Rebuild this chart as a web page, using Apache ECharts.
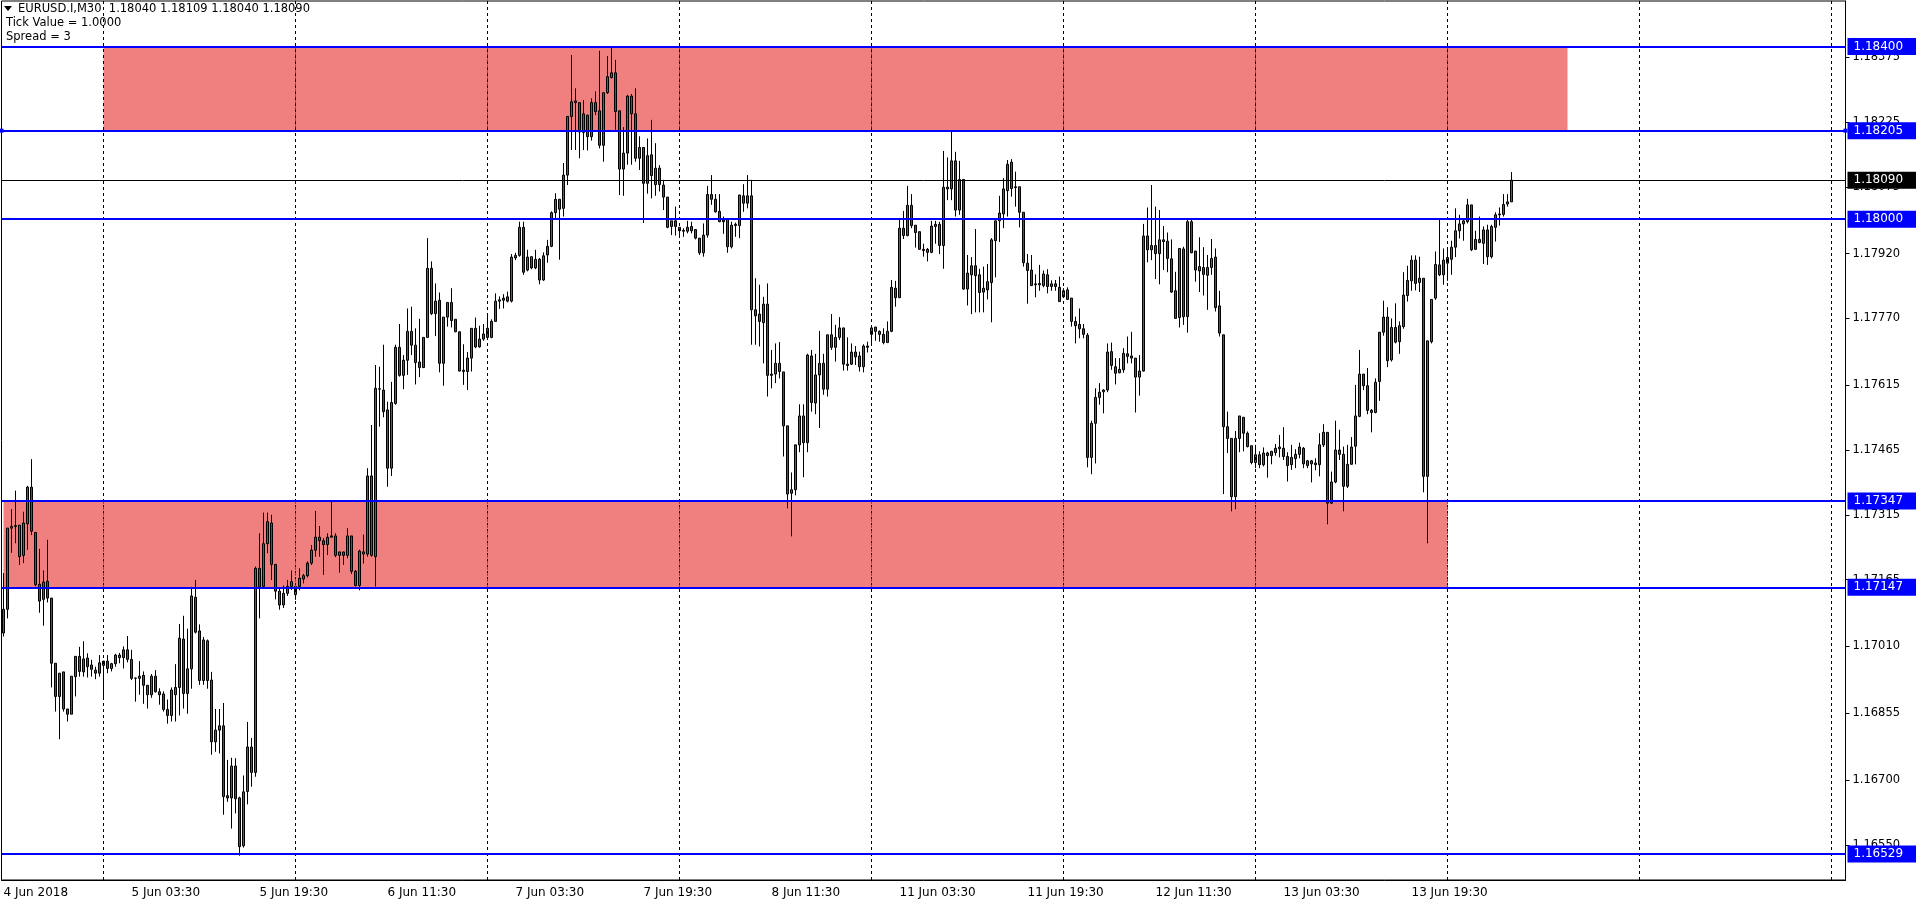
<!DOCTYPE html>
<html><head><meta charset="utf-8">
<script src="https://cdn.jsdelivr.net/npm/echarts@6/dist/echarts.min.js"></script>
<style>html,body{margin:0;padding:0;background:#fff;}#c{width:1916px;height:907px;}</style>
</head><body><div id="c"></div>
<script>
const symbolName = 'EURUSD.I,M30';
const tickValueText = 'Tick Value = 1.0000';
const spreadText = 'Spread = 3';

const opens = [
1.17041,1.17096,1.17284,1.17288,1.17218,1.17221,1.17294,1.17379,1.17274,1.17154,
1.17119,1.17161,1.17122,1.16971,1.16894,1.16951,1.16865,1.16853,1.16940,1.16987,
1.16951,1.16983,1.16967,1.16955,1.16948,1.16966,1.16976,1.16959,1.16970,1.16990,
1.16984,1.17002,1.16980,1.16936,1.16936,1.16943,1.16920,1.16898,1.16941,1.16905,
1.16900,1.16864,1.16850,1.16898,1.16915,1.17027,1.16901,1.16958,1.17124,1.17046,
1.16931,1.17023,1.16932,1.16789,1.16816,1.16826,1.16664,1.16659,1.16733,1.16659,
1.16548,1.16674,1.16777,1.16718,1.17191,1.17149,1.17248,1.17296,1.17200,1.17138,
1.17106,1.17133,1.17149,1.17130,1.17149,1.17166,1.17174,1.17203,1.17233,1.17263,
1.17255,1.17246,1.17266,1.17266,1.17221,1.17229,1.17221,1.17266,1.17184,1.17151,
1.17224,1.17224,1.17405,1.17218,1.17606,1.17604,1.17558,1.17423,1.17573,1.17703,
1.17638,1.17673,1.17740,1.17708,1.17669,1.17656,1.17726,1.17886,1.17781,1.17812,
1.17666,1.17773,1.17807,1.17768,1.17739,1.17650,1.17647,1.17678,1.17747,1.17704,
1.17722,1.17747,1.17726,1.17763,1.17810,1.17812,1.17820,1.17810,1.17910,1.17916,
1.17981,1.17882,1.17913,1.17887,1.17907,1.17859,1.17917,1.17937,1.18015,1.18046,
1.18025,1.18102,1.18238,1.18274,1.18270,1.18201,1.18241,1.18191,1.18270,1.18251,
1.18171,1.18293,1.18328,1.18339,1.18251,1.18116,1.18153,1.18285,1.18244,1.18141,
1.18166,1.18083,1.18149,1.18080,1.18118,1.18079,1.18051,1.17983,1.17996,1.17981,
1.17974,1.17972,1.17983,1.17976,1.17956,1.17922,1.17963,1.18057,1.18046,1.18018,
1.17998,1.18000,1.17936,1.17985,1.17985,1.18054,1.18037,1.18054,1.17790,1.17780,
1.17760,1.17803,1.17641,1.17641,1.17666,1.17646,1.17521,1.17365,1.17373,1.17477,
1.17544,1.17482,1.17683,1.17574,1.17639,1.17666,1.17606,1.17732,1.17703,1.17726,
1.17748,1.17664,1.17664,1.17692,1.17683,1.17658,1.17703,1.17733,1.17750,1.17740,
1.17733,1.17714,1.17740,1.17840,1.17818,1.17979,1.17962,1.18032,1.17986,1.17971,
1.17930,1.17930,1.17923,1.17988,1.17988,1.17939,1.18074,1.18070,1.18135,1.18021,
1.18092,1.17838,1.17871,1.17892,1.17871,1.17831,1.17836,1.17853,1.17950,1.17996,
1.18012,1.18066,1.18132,1.18075,1.18075,1.18016,1.17898,1.17882,1.17850,1.17848,
1.17846,1.17871,1.17844,1.17850,1.17842,1.17820,1.17836,1.17817,1.17763,1.17756,
1.17746,1.17731,1.17448,1.17527,1.17587,1.17600,1.17604,1.17693,1.17658,1.17644,
1.17651,1.17688,1.17683,1.17678,1.17634,1.17648,1.17961,1.17929,1.17939,1.17920,
1.17952,1.17949,1.17908,1.17834,1.17772,1.17931,1.17774,1.17994,1.17926,1.17880,
1.17888,1.17870,1.17888,1.17912,1.17799,1.17732,1.17519,1.17492,1.17357,1.17492,
1.17541,1.17504,1.17475,1.17436,1.17454,1.17431,1.17458,1.17452,1.17459,1.17468,
1.17469,1.17450,1.17431,1.17445,1.17455,1.17469,1.17429,1.17440,1.17435,1.17431,
1.17477,1.17506,1.17342,1.17391,1.17465,1.17455,1.17381,1.17432,1.17474,1.17543,
1.17641,1.17614,1.17557,1.17552,1.17624,1.17738,1.17773,1.17674,1.17749,1.17716,
1.17751,1.17823,1.17857,1.17905,1.17853,1.17863,1.17404,1.17716,1.17817,1.17894,
1.17871,1.17898,1.17907,1.17935,1.17973,1.17989,1.17994,1.18033,1.17930,1.17953,
1.17944,1.17975,1.17913,1.17981,1.18010,1.18011,1.18035,1.18040];

const highs = [
1.17180,1.17284,1.17328,1.17371,1.17291,1.17322,1.17382,1.17444,1.17274,1.17236,
1.17186,1.17257,1.17122,1.16971,1.16948,1.16951,1.16865,1.16941,1.16987,1.17009,
1.17022,1.16994,1.16979,1.16963,1.16990,1.16976,1.16990,1.16972,1.16993,1.16995,
1.17010,1.17034,1.17002,1.16938,1.16976,1.16952,1.16920,1.16946,1.16955,1.16913,
1.16906,1.16887,1.16915,1.16969,1.17062,1.17081,1.17051,1.17148,1.17164,1.17061,
1.17032,1.17026,1.16951,1.16865,1.16865,1.16879,1.16747,1.16752,1.16751,1.16662,
1.16711,1.16835,1.16798,1.17195,1.17272,1.17320,1.17320,1.17315,1.17200,1.17145,
1.17151,1.17164,1.17186,1.17156,1.17191,1.17178,1.17207,1.17245,1.17324,1.17289,
1.17261,1.17272,1.17346,1.17272,1.17229,1.17229,1.17284,1.17266,1.17187,1.17234,
1.17269,1.17423,1.17523,1.17662,1.17658,1.17709,1.17577,1.17623,1.17709,1.17757,
1.17685,1.17793,1.17797,1.17747,1.17769,1.17726,1.17956,1.17902,1.17851,1.17830,
1.17773,1.17807,1.17840,1.17768,1.17739,1.17710,1.17692,1.17747,1.17772,1.17753,
1.17757,1.17778,1.17768,1.17828,1.17821,1.17826,1.17832,1.17919,1.17922,1.17994,
1.17994,1.17929,1.17913,1.17929,1.17910,1.17923,1.17952,1.18018,1.18060,1.18046,
1.18130,1.18238,1.18380,1.18303,1.18270,1.18276,1.18241,1.18280,1.18296,1.18390,
1.18293,1.18378,1.18398,1.18369,1.18251,1.18213,1.18288,1.18290,1.18303,1.18192,
1.18166,1.18187,1.18230,1.18176,1.18125,1.18091,1.18051,1.17996,1.18029,1.17981,
1.17979,1.17996,1.17994,1.17976,1.17956,1.17990,1.18077,1.18102,1.18058,1.18058,
1.18006,1.18000,1.17994,1.17992,1.18056,1.18081,1.18102,1.18091,1.17863,1.17848,
1.17820,1.17851,1.17697,1.17712,1.17715,1.17646,1.17521,1.17413,1.17477,1.17571,
1.17571,1.17688,1.17697,1.17688,1.17741,1.17688,1.17732,1.17780,1.17755,1.17773,
1.17748,1.17726,1.17712,1.17706,1.17693,1.17710,1.17716,1.17751,1.17750,1.17742,
1.17747,1.17763,1.17859,1.17857,1.17998,1.18019,1.18077,1.18058,1.17986,1.17971,
1.17943,1.17933,1.17996,1.17996,1.17994,1.18158,1.18143,1.18203,1.18156,1.18135,
1.18092,1.17917,1.17912,1.17977,1.17885,1.17890,1.17896,1.17956,1.17997,1.18054,
1.18095,1.18137,1.18139,1.18110,1.18075,1.18016,1.17919,1.17917,1.17872,1.17894,
1.17881,1.17884,1.17858,1.17859,1.17867,1.17840,1.17842,1.17817,1.17774,1.17793,
1.17757,1.17736,1.17533,1.17608,1.17620,1.17606,1.17712,1.17714,1.17678,1.17678,
1.17701,1.17728,1.17739,1.17678,1.17685,1.17989,1.18027,1.18079,1.18029,1.18021,
1.17984,1.17969,1.17953,1.17878,1.17932,1.17936,1.18000,1.17998,1.17926,1.17958,
1.17935,1.17917,1.17954,1.17932,1.17834,1.17732,1.17554,1.17492,1.17509,1.17544,
1.17541,1.17508,1.17475,1.17477,1.17462,1.17471,1.17461,1.17463,1.17479,1.17500,
1.17518,1.17460,1.17477,1.17467,1.17482,1.17472,1.17442,1.17442,1.17446,1.17504,
1.17525,1.17506,1.17415,1.17533,1.17512,1.17473,1.17477,1.17495,1.17616,1.17697,
1.17641,1.17655,1.17560,1.17631,1.17738,1.17811,1.17796,1.17770,1.17805,1.17763,
1.17877,1.17892,1.17916,1.17916,1.17913,1.17863,1.17718,1.17814,1.17925,1.18000,
1.17932,1.17930,1.17950,1.18025,1.18010,1.18002,1.18047,1.18033,1.17973,1.18006,
1.17983,1.17987,1.17987,1.18016,1.18027,1.18058,1.18058,1.18109];

const lows = [
1.17033,1.17075,1.17227,1.17249,1.17199,1.17203,1.17234,1.17268,1.17149,1.17088,
1.17058,1.17112,1.16915,1.16859,1.16795,1.16859,1.16836,1.16853,1.16894,1.16940,
1.16940,1.16938,1.16940,1.16934,1.16940,1.16886,1.16948,1.16952,1.16963,1.16971,
1.16959,1.16973,1.16932,1.16882,1.16898,1.16877,1.16866,1.16891,1.16903,1.16875,
1.16859,1.16831,1.16836,1.16836,1.16850,1.16866,1.16854,1.16912,1.17040,1.16921,
1.16921,1.16912,1.16759,1.16766,1.16762,1.16620,1.16650,1.16588,1.16623,1.16525,
1.16544,1.16644,1.16685,1.16708,1.17075,1.17149,1.17226,1.17164,1.17119,1.17095,
1.17099,1.17127,1.17141,1.17118,1.17140,1.17156,1.17170,1.17199,1.17218,1.17218,
1.17176,1.17222,1.17263,1.17217,1.17181,1.17199,1.17214,1.17178,1.17149,1.17140,
1.17202,1.17218,1.17218,1.17149,1.17519,1.17541,1.17380,1.17405,1.17570,1.17635,
1.17606,1.17639,1.17685,1.17617,1.17634,1.17655,1.17726,1.17778,1.17729,1.17645,
1.17614,1.17751,1.17749,1.17738,1.17647,1.17616,1.17604,1.17647,1.17701,1.17702,
1.17718,1.17724,1.17724,1.17763,1.17792,1.17793,1.17807,1.17807,1.17905,1.17913,
1.17871,1.17879,1.17884,1.17884,1.17849,1.17857,1.17899,1.17935,1.18000,1.17906,
1.18006,1.18079,1.18160,1.18160,1.18141,1.18160,1.18159,1.18182,1.18241,1.18164,
1.18133,1.18290,1.18326,1.18207,1.18056,1.18054,1.18126,1.18126,1.18133,1.18114,
1.17991,1.18059,1.18048,1.18054,1.18064,1.18021,1.17979,1.17963,1.17962,1.17962,
1.17959,1.17967,1.17967,1.17953,1.17917,1.17913,1.17957,1.18033,1.18015,1.17993,
1.17966,1.17922,1.17932,1.17959,1.17956,1.18017,1.18025,1.17709,1.17709,1.17705,
1.17666,1.17589,1.17608,1.17620,1.17631,1.17450,1.17330,1.17265,1.17360,1.17460,
1.17402,1.17460,1.17554,1.17548,1.17516,1.17593,1.17589,1.17697,1.17670,1.17720,
1.17649,1.17649,1.17662,1.17662,1.17647,1.17645,1.17691,1.17710,1.17718,1.17716,
1.17710,1.17713,1.17738,1.17797,1.17817,1.17954,1.17960,1.17979,1.17934,1.17929,
1.17913,1.17902,1.17921,1.17943,1.17919,1.17885,1.18044,1.18044,1.18006,1.18010,
1.17836,1.17800,1.17780,1.17784,1.17784,1.17784,1.17814,1.17761,1.17865,1.17947,
1.17979,1.18006,1.18052,1.18029,1.17981,1.17890,1.17804,1.17845,1.17819,1.17834,
1.17842,1.17828,1.17834,1.17834,1.17809,1.17817,1.17813,1.17751,1.17712,1.17724,
1.17724,1.17425,1.17409,1.17434,1.17570,1.17550,1.17599,1.17651,1.17617,1.17643,
1.17644,1.17666,1.17666,1.17552,1.17591,1.17647,1.17900,1.17905,1.17861,1.17849,
1.17882,1.17877,1.17829,1.17769,1.17749,1.17755,1.17737,1.17921,1.17855,1.17831,
1.17823,1.17790,1.17871,1.17786,1.17728,1.17363,1.17458,1.17323,1.17328,1.17460,
1.17462,1.17471,1.17432,1.17423,1.17423,1.17427,1.17401,1.17432,1.17452,1.17448,
1.17442,1.17392,1.17419,1.17423,1.17446,1.17423,1.17423,1.17390,1.17418,1.17404,
1.17472,1.17293,1.17340,1.17388,1.17442,1.17323,1.17377,1.17431,1.17432,1.17541,
1.17604,1.17548,1.17506,1.17550,1.17579,1.17730,1.17657,1.17670,1.17712,1.17688,
1.17746,1.17809,1.17834,1.17835,1.17831,1.17367,1.17249,1.17712,1.17813,1.17868,
1.17848,1.17857,1.17871,1.17912,1.17955,1.17950,1.17990,1.17926,1.17929,1.17944,
1.17896,1.17894,1.17909,1.17948,1.17985,1.18006,1.18029,1.18040];

const closes = [
1.17096,1.17284,1.17288,1.17290,1.17291,1.17296,1.17379,1.17277,1.17153,1.17115,
1.17159,1.17122,1.16971,1.16894,1.16948,1.16865,1.16853,1.16941,1.16987,1.16952,
1.16981,1.16963,1.16957,1.16948,1.16972,1.16976,1.16959,1.16970,1.16990,1.16984,
1.17002,1.16980,1.16936,1.16937,1.16941,1.16920,1.16898,1.16941,1.16905,1.16898,
1.16864,1.16850,1.16909,1.16915,1.17029,1.16901,1.16958,1.17127,1.17043,1.16931,
1.17025,1.16931,1.16789,1.16816,1.16826,1.16662,1.16659,1.16733,1.16657,1.16546,
1.16673,1.16777,1.16718,1.17191,1.17148,1.17248,1.17299,1.17200,1.17138,1.17106,
1.17133,1.17149,1.17160,1.17149,1.17168,1.17174,1.17203,1.17233,1.17263,1.17255,
1.17246,1.17263,1.17263,1.17221,1.17229,1.17221,1.17266,1.17184,1.17151,1.17231,
1.17229,1.17405,1.17221,1.17608,1.17607,1.17554,1.17423,1.17575,1.17703,1.17638,
1.17673,1.17740,1.17708,1.17668,1.17656,1.17726,1.17886,1.17781,1.17810,1.17666,
1.17773,1.17807,1.17765,1.17739,1.17648,1.17647,1.17678,1.17747,1.17704,1.17722,
1.17734,1.17726,1.17763,1.17810,1.17813,1.17817,1.17810,1.17912,1.17916,1.17981,
1.17877,1.17912,1.17887,1.17907,1.17859,1.17915,1.17937,1.18015,1.18046,1.18023,
1.18102,1.18238,1.18272,1.18270,1.18202,1.18244,1.18191,1.18270,1.18249,1.18171,
1.18293,1.18330,1.18339,1.18249,1.18116,1.18153,1.18285,1.18244,1.18141,1.18166,
1.18083,1.18147,1.18101,1.18118,1.18080,1.18051,1.17981,1.17996,1.17983,1.17973,
1.17972,1.17981,1.17973,1.17956,1.17922,1.17963,1.18057,1.18046,1.18017,1.17994,
1.17994,1.17936,1.17986,1.17988,1.18056,1.18037,1.18054,1.17790,1.17776,1.17763,
1.17803,1.17638,1.17638,1.17666,1.17647,1.17521,1.17363,1.17373,1.17477,1.17544,
1.17482,1.17685,1.17575,1.17639,1.17666,1.17606,1.17732,1.17703,1.17726,1.17748,
1.17664,1.17661,1.17692,1.17681,1.17658,1.17706,1.17706,1.17748,1.17740,1.17733,
1.17714,1.17740,1.17842,1.17818,1.17979,1.17962,1.18032,1.17985,1.17969,1.17930,
1.17927,1.17923,1.17984,1.17983,1.17939,1.18074,1.18070,1.18135,1.18021,1.18092,
1.17838,1.17875,1.17892,1.17869,1.17830,1.17840,1.17855,1.17952,1.17996,1.18014,
1.18070,1.18127,1.18071,1.18073,1.18016,1.17899,1.17881,1.17846,1.17848,1.17851,
1.17873,1.17844,1.17850,1.17844,1.17809,1.17834,1.17814,1.17763,1.17753,1.17746,
1.17733,1.17448,1.17527,1.17587,1.17599,1.17604,1.17692,1.17661,1.17643,1.17652,
1.17689,1.17682,1.17678,1.17634,1.17648,1.17961,1.17929,1.17939,1.17920,1.17952,
1.17948,1.17909,1.17831,1.17770,1.17932,1.17774,1.17994,1.17922,1.17882,1.17890,
1.17872,1.17888,1.17909,1.17795,1.17736,1.17519,1.17492,1.17357,1.17492,1.17544,
1.17504,1.17473,1.17436,1.17454,1.17431,1.17458,1.17452,1.17462,1.17469,1.17472,
1.17450,1.17429,1.17448,1.17455,1.17472,1.17433,1.17440,1.17433,1.17431,1.17477,
1.17506,1.17342,1.17391,1.17465,1.17455,1.17381,1.17432,1.17472,1.17544,1.17641,
1.17614,1.17557,1.17552,1.17622,1.17738,1.17773,1.17672,1.17749,1.17715,1.17753,
1.17824,1.17858,1.17905,1.17851,1.17863,1.17404,1.17718,1.17814,1.17895,1.17871,
1.17905,1.17911,1.17935,1.17973,1.17989,1.17996,1.18033,1.17929,1.17953,1.17946,
1.17975,1.17913,1.17983,1.18010,1.18012,1.18034,1.18040,1.18090];

// x axis: bar slots, tick labels and day separators
const totalSlots = 461;
const xLabelBars = [0, 32, 64, 96, 128, 160, 192, 224, 256, 288, 320, 352];
const xLabelTexts = ['4 Jun 2018','5 Jun 03:30','5 Jun 19:30','6 Jun 11:30','7 Jun 03:30','7 Jun 19:30',
  '8 Jun 11:30','11 Jun 03:30','11 Jun 19:30','12 Jun 11:30','13 Jun 03:30','13 Jun 19:30'];
const daySeparatorBars = [25, 73, 121, 169, 217, 265, 313, 361, 409, 457];

// y axis
const yMin = 1.164688, yMax = 1.185054;
const yTickValues = [1.16550,1.16700,1.16855,1.17010,1.17165,1.17315,1.17465,1.17615,1.17770,1.17920,1.18075,1.18225,1.18375];

// horizontal levels and zones
const levelPrices = [1.18400, 1.18000, 1.17347, 1.17147, 1.16529];
const selectedLevel = 1.18205;
const zones = [
  {from: 25, to: 391, high: 1.18400, low: 1.18205},
  {from: 0, to: 361, high: 1.17347, low: 1.17147}
];

const FONT = 'DejaVu Sans';
const cats = Array.from({length: totalSlots}, (_, i) => String(i));
const labelMap = {};
xLabelBars.forEach((b, i) => labelMap[String(b)] = xLabelTexts[i]);
const isLabelBar = (idx) => xLabelBars.indexOf(idx) >= 0;

const candleData = opens.map((o, i) => [o, closes[i], lows[i], highs[i]]);
const last = opens.length - 1;
const lastClose = closes[last];
const header = symbolName + '  ' + [opens[last], highs[last], lows[last], closes[last]].map(v => v.toFixed(5)).join(' ');

const blue = '#0000ff';
const levelLabel = (bg) => ({show: true, position: 'end', distance: 2, formatter: (p) => p.value.toFixed(5),
  color: '#fff', fontFamily: FONT, fontSize: 12, padding: [3, 13, 2, 6], backgroundColor: bg});

const levelLines = levelPrices.map(p => ({yAxis: p, lineStyle: {color: blue, width: 2, type: 'solid'}, label: levelLabel(blue)}));
levelLines.push({yAxis: lastClose, lineStyle: {color: '#000', width: 1, type: 'solid'}, label: levelLabel('#000')});

// day separators: black dashes, with a teal tint where they cross the zones
const tealSegments = [];
daySeparatorBars.forEach(b => {
  zones.forEach(z => {
    if (b > z.from && b <= z.to) {
      tealSegments.push([{xAxis: String(b), yAxis: z.high}, {xAxis: String(b), yAxis: z.low}]);
    }
  });
});

const chart = echarts.init(document.getElementById('c'), null, {renderer: 'canvas'});
chart.setOption({
  animation: false,
  backgroundColor: '#ffffff',
  grid: {left: 1.5, top: 1, width: 1844, height: 879, show: true, borderColor: '#000', borderWidth: 1, backgroundColor: 'transparent'},
  xAxis: {
    type: 'category', data: cats, boundaryGap: true,
    axisLine: {show: true, lineStyle: {color: '#000', width: 1}},
    axisTick: {show: false},
    axisLabel: {interval: (i) => isLabelBar(i), formatter: (v) => labelMap[v] || '', align: 'left', margin: 7,
      color: '#000', fontFamily: FONT, fontSize: 12},
    splitLine: {show: false}
  },
  yAxis: {
    type: 'value', position: 'right', min: yMin, max: yMax, scale: true,
    axisLine: {show: true, lineStyle: {color: '#000', width: 1}},
    axisTick: {show: true, customValues: yTickValues, length: 4, lineStyle: {color: '#000'}},
    axisLabel: {customValues: yTickValues, formatter: (v) => v.toFixed(5), color: '#000', fontFamily: FONT, fontSize: 11.5, margin: 7},
    splitLine: {show: false}
  },
  graphic: [
    {type: 'polygon', shape: {points: [[4, 6], [12, 6], [8, 11]]}, style: {fill: '#000'}},
    {type: 'text', left: 18, top: 3, style: {text: header, font: '11.5px "DejaVu Sans"', fill: '#000'}},
    {type: 'text', left: 6, top: 17, style: {text: tickValueText, font: '11.5px "DejaVu Sans"', fill: '#000'}},
    {type: 'text', left: 6, top: 31, style: {text: spreadText, font: '11.5px "DejaVu Sans"', fill: '#000'}}
  ],
  series: [
    {
      name: 'zones', type: 'line', data: [], z: 1, silent: true,
      markArea: {
        silent: true,
        itemStyle: {color: '#F08080', opacity: 1},
        data: zones.map(z => [{xAxis: String(z.from), yAxis: z.high}, {xAxis: String(z.to), yAxis: z.low}])
      }
    },
    {
      name: 'days', type: 'line', data: [], z: 2, silent: true,
      markLine: {
        silent: true, symbol: ['none', 'none'], label: {show: false},
        lineStyle: {color: '#000', width: 1, type: [3, 3]},
        data: daySeparatorBars.map(b => ({xAxis: String(b)}))
      }
    },
    {
      name: 'daysInZone', type: 'line', data: [], z: 2.5, silent: true,
      markLine: {
        silent: true, symbol: ['none', 'none'], label: {show: false},
        lineStyle: {color: '#1a7a7a', width: 1, type: [3, 3]},
        data: tealSegments
      }
    },
    {
      name: 'EURUSD', type: 'candlestick', z: 3, barWidth: 3,
      data: candleData,
      itemStyle: {color: '#1f8b1f', color0: '#ee1111', borderColor: '#000', borderColor0: '#000', borderWidth: 1}
    },
    {
      name: 'levels', type: 'line', data: [], z: 5, silent: true,
      markLine: {
        silent: true, precision: 5, symbol: ['none', 'none'],
        data: levelLines
      }
    },
    {
      name: 'selectedLevel', type: 'line', data: [], z: 5, silent: true,
      markLine: {
        silent: true, precision: 5, symbol: ['rect', 'rect'], symbolSize: 4,
        lineStyle: {color: blue, width: 2, type: 'solid'},
        label: levelLabel(blue),
        data: [{yAxis: selectedLevel}]
      }
    }
  ]
});
</script>
</body></html>
